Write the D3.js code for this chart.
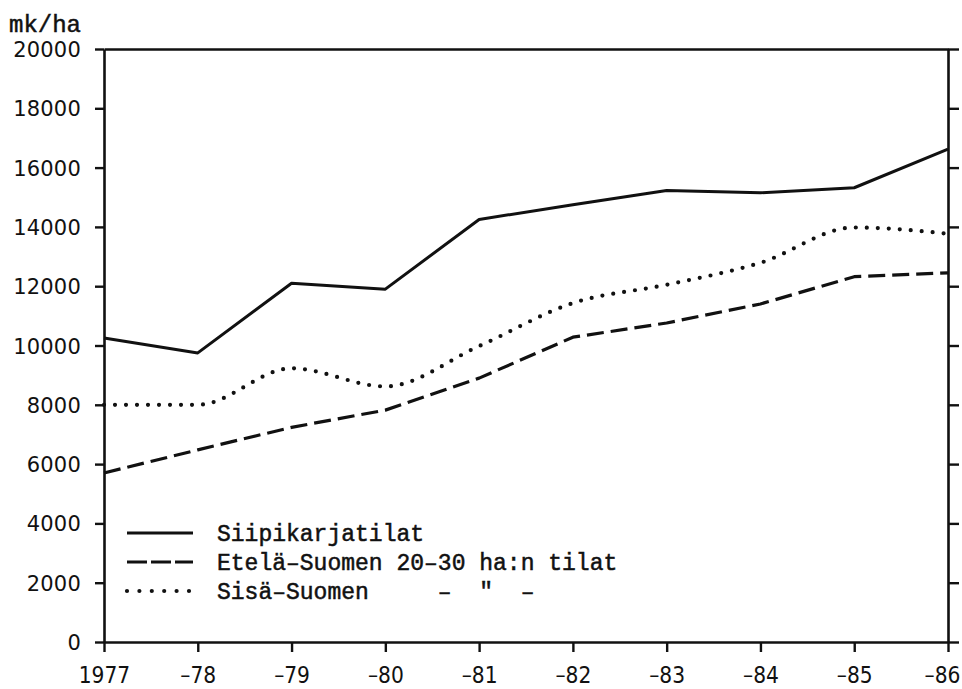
<!DOCTYPE html>
<html>
<head>
<meta charset="utf-8">
<script src="https://cdn.jsdelivr.net/npm/d3@7"></script>
<style>
  html, body { margin: 0; padding: 0; background: #fff; }
  svg { display: block; }
  text { fill: #111; }
</style>
</head>
<body>
<svg id="chart" width="962" height="689"></svg>
<script>
// ---- data ----
const years = [1977, 1978, 1979, 1980, 1981, 1982, 1983, 1984, 1985, 1986];
const yearLabels = ["1977", "–78", "–79", "–80", "–81", "–82", "–83", "–84", "–85", "–86"];
const siipikarjatilat = [10250, 9750, 12100, 11900, 14250, 14750, 15230, 15150, 15320, 16620];
const etelaSuomen = [5700, 6480, 7240, 7820, 8900, 10280, 10760, 11400, 12320, 12450];
const sisaSuomen = [8000, 8000, 9230, 8620, 9980, 11430, 12050, 12790, 13980, 13770];
const yTicks = [0, 2000, 4000, 6000, 8000, 10000, 12000, 14000, 16000, 18000, 20000];
const legendLabels = ["Siipikarjatilat", "Etelä–Suomen 20–30 ha:n tilat", "Sisä–Suomen     –  \"  –"];
const yUnit = "mk/ha";

// ---- layout ----
const svg = d3.select("#chart");
const mLeft = 104, mRight = 948, mTop = 49, mBottom = 642;

const x = d3.scaleLinear().domain([1977, 1986]).range([mLeft, mRight]);
const y = d3.scaleLinear().domain([0, 20000]).range([mBottom, mTop]);

const ink = "#111";
const axisFont = "'DejaVu Sans', sans-serif";
const monoFont = "'Liberation Mono', 'DejaVu Sans Mono', monospace";

// left axis
const gL = svg.append("g").attr("transform", `translate(${mLeft},0)`)
  .call(d3.axisLeft(y).tickValues(yTicks).tickSize(9).tickSizeOuter(0).tickFormat(d => String(d)));
gL.selectAll("text").attr("x", -23).attr("dy", "0.36em")
  .style("font-family", axisFont).style("font-size", "21px").style("letter-spacing", "0.2px").attr("fill", ink);

// right axis (ticks only)
const gR = svg.append("g").attr("transform", `translate(${mRight},0)`)
  .call(d3.axisRight(y).tickValues(yTicks).tickSize(11).tickSizeOuter(0).tickFormat(""));

// bottom axis
const gB = svg.append("g").attr("transform", `translate(0,${mBottom})`)
  .call(d3.axisBottom(x).tickValues(years).tickSize(10).tickSizeOuter(0)
    .tickFormat((d, i) => yearLabels[i]));
gB.selectAll("text")
  .attr("y", 0).attr("dy", 0)
  .attr("transform", (d, i) => i === years.length - 1 ? "translate(-6,41) scale(0.88,1)" : "translate(0,41) scale(0.88,1)")
  .style("font-family", axisFont)
  .style("font-size", "23px").attr("fill", ink);

// top axis line
const gT = svg.append("g").attr("transform", `translate(0,${mTop})`)
  .call(d3.axisTop(x).tickValues([]).tickSizeOuter(0));

svg.selectAll(".domain").attr("stroke", ink).attr("stroke-width", 2.6);
svg.selectAll(".tick line").attr("stroke", ink).attr("stroke-width", 2.4);
gB.select(".domain").attr("stroke-width", 2.4);
gT.select(".domain").attr("stroke-width", 2.4);

// unit label
svg.append("text").attr("x", 9).attr("y", 32).text(yUnit)
  .style("font-family", monoFont).style("font-size", "24px")
  .attr("fill", ink).attr("stroke", ink).attr("stroke-width", 0.5);

// ---- lines ----
const series = [
  { values: siipikarjatilat, dash: null, width: 3, cap: "butt", curve: d3.curveLinear },
  { values: etelaSuomen, dash: "17,7", width: 3.2, cap: "butt", curve: d3.curveLinear },
  { values: sisaSuomen, dash: "0,11", width: 4.2, cap: "round", curve: d3.curveMonotoneX }
];

series.forEach(s => {
  const line = d3.line().x((d, i) => x(years[i])).y(d => y(d)).curve(s.curve);
  svg.append("path").datum(s.values)
    .attr("d", line)
    .attr("fill", "none")
    .attr("stroke", ink)
    .attr("stroke-width", s.width)
    .attr("stroke-linecap", s.cap)
    .attr("stroke-linejoin", "round")
    .attr("stroke-dasharray", s.dash);
});

// ---- legend ----
const legendY = [533, 562, 591];
const lg = svg.append("g");
series.forEach((s, i) => {
  lg.append("line")
    .attr("x1", 127).attr("x2", s.cap === "round" ? 192 : 193)
    .attr("y1", legendY[i]).attr("y2", legendY[i])
    .attr("stroke", ink)
    .attr("stroke-width", s.width)
    .attr("stroke-linecap", s.cap)
    .attr("stroke-dasharray", s.dash === "17,7" ? "20,4" : (s.dash ? "0,12.4" : null));
  lg.append("text")
    .attr("x", 217).attr("y", legendY[i]).attr("dy", "0.35em")
    .style("white-space", "pre")
    .attr("xml:space", "preserve")
    .style("font-family", monoFont).style("font-size", "23px")
    .attr("fill", ink).attr("stroke", ink).attr("stroke-width", 0.5)
    .text(legendLabels[i]);
});
</script>
</body>
</html>
